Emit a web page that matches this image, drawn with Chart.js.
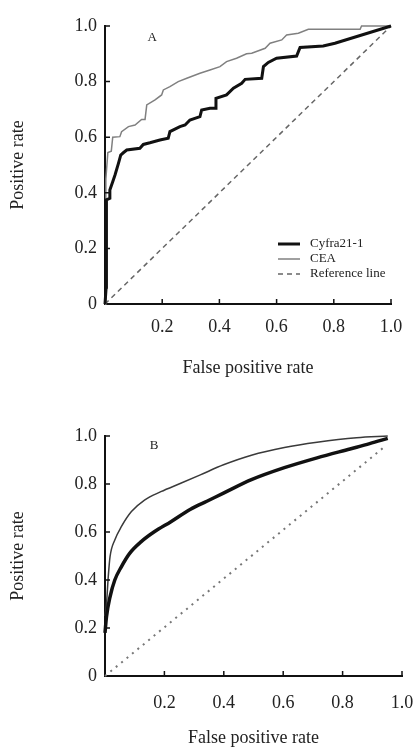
<!DOCTYPE html>
<html>
<head>
<meta charset="utf-8">
<script src="https://cdn.jsdelivr.net/npm/chart.js@4.4.1/dist/chart.umd.min.js"></script>
<style>
body { margin: 0; background: #fff; }
canvas { display: block; }
</style>
</head>
<body>
<canvas id="rocA" width="414" height="385"></canvas>
<canvas id="rocB" width="414" height="366"></canvas>
<script>
// Panel A - empirical ROC
var cyfraA_fpr = [0, 0.004, 0.005, 0.017, 0.017, 0.027, 0.035, 0.047, 0.055, 0.064, 0.076, 0.122, 0.134, 0.157, 0.192, 0.221, 0.227, 0.262, 0.28, 0.297, 0.332, 0.338, 0.367, 0.385, 0.388, 0.425, 0.449, 0.478, 0.49, 0.548, 0.554, 0.571, 0.6, 0.67, 0.682, 0.763, 0.804, 1.0];
var cyfraA_tpr = [0, 0.06, 0.375, 0.38, 0.41, 0.44, 0.464, 0.506, 0.536, 0.544, 0.554, 0.56, 0.574, 0.58, 0.59, 0.596, 0.62, 0.638, 0.644, 0.662, 0.674, 0.698, 0.704, 0.704, 0.74, 0.752, 0.776, 0.794, 0.808, 0.812, 0.854, 0.869, 0.884, 0.892, 0.923, 0.928, 0.938, 1.0];
var ceaA_fpr = [0, 0.003, 0.01, 0.022, 0.027, 0.052, 0.058, 0.082, 0.105, 0.128, 0.14, 0.146, 0.175, 0.198, 0.204, 0.227, 0.256, 0.286, 0.332, 0.367, 0.402, 0.425, 0.46, 0.495, 0.513, 0.56, 0.577, 0.618, 0.635, 0.676, 0.711, 0.892, 0.897, 1.0];
var ceaA_tpr = [0, 0.45, 0.545, 0.55, 0.6, 0.602, 0.62, 0.638, 0.644, 0.664, 0.664, 0.716, 0.734, 0.752, 0.77, 0.782, 0.8, 0.812, 0.83, 0.842, 0.854, 0.872, 0.884, 0.9, 0.902, 0.92, 0.938, 0.95, 0.968, 0.974, 0.988, 0.988, 1.0, 1.0];
var refA_fpr = [0, 1.0];
var refA_tpr = [0, 1.0];

// Panel B - smoothed ROC
var cyfraB_fpr = [0, 0.005, 0.017, 0.033, 0.055, 0.083, 0.122, 0.166, 0.222, 0.288, 0.343, 0.399, 0.493, 0.604, 0.714, 0.825, 0.891, 0.952];
var cyfraB_tpr = [0.18, 0.247, 0.33, 0.4, 0.455, 0.511, 0.56, 0.601, 0.643, 0.695, 0.728, 0.762, 0.818, 0.868, 0.909, 0.946, 0.968, 0.99];
var ceaB_fpr = [0, 0.005, 0.011, 0.017, 0.033, 0.055, 0.089, 0.133, 0.188, 0.255, 0.321, 0.399, 0.493, 0.604, 0.714, 0.847, 0.952];
var ceaB_tpr = [0.25, 0.3, 0.414, 0.497, 0.567, 0.622, 0.685, 0.733, 0.768, 0.803, 0.838, 0.88, 0.92, 0.952, 0.974, 0.993, 1.0];
var refB_fpr = [0, 0.941];
var refB_tpr = [0, 0.955];

var seriesNames = ['Cyfra21-1', 'CEA', 'Reference line'];
var xTicks = [0.2, 0.4, 0.6, 0.8, 1.0];
var yTicks = [0, 0.2, 0.4, 0.6, 0.8, 1.0];

var serif = "'Liberation Serif', 'Times New Roman', serif";

function toPoints(xs, ys) {
	var pts = [];
	for (var i = 0; i < xs.length; i++) {
		pts.push({x: xs[i], y: ys[i]});
	}
	return pts;
}

// small tick marks pointing into the plot
var innerTicks = {
	id: 'innerTicks',
	afterDraw: function(chart) {
		var ctx = chart.ctx, xs = chart.scales.x, ys = chart.scales.y;
		ctx.save();
		ctx.strokeStyle = '#111';
		ctx.lineWidth = 1.5;
		ctx.beginPath();
		xs.ticks.forEach(function(t) {
			var px = xs.getPixelForValue(t.value);
			ctx.moveTo(px, ys.bottom);
			ctx.lineTo(px, ys.bottom - 5);
		});
		ys.ticks.forEach(function(t) {
			if (t.value === 0) return;
			var py = ys.getPixelForValue(t.value);
			ctx.moveTo(xs.left, py);
			ctx.lineTo(xs.left + 5, py);
		});
		ctx.stroke();
		ctx.restore();
	}
};

// "A" / "B" panel letter
var panelLetter = {
	id: 'panelLetter',
	afterDraw: function(chart, args, opts) {
		if (!opts.text) return;
		var ctx = chart.ctx;
		ctx.save();
		ctx.font = '13px ' + serif;
		ctx.fillStyle = '#222';
		ctx.textAlign = 'center';
		ctx.textBaseline = 'middle';
		ctx.fillText(opts.text, chart.scales.x.getPixelForValue(opts.x), chart.scales.y.getPixelForValue(opts.y));
		ctx.restore();
	}
};

// legend in the lower right of the plot area
var insideLegend = {
	id: 'insideLegend',
	afterDraw: function(chart, args, opts) {
		if (!opts.show) return;
		var ctx = chart.ctx, area = chart.chartArea;
		var x0 = area.right - 113;
		ctx.save();
		ctx.font = '13px ' + serif;
		ctx.textBaseline = 'middle';
		chart.data.datasets.forEach(function(ds, i) {
			var y = area.bottom - 60 + i * 15;
			ctx.strokeStyle = ds.borderColor;
			ctx.lineWidth = ds.borderWidth;
			ctx.setLineDash(ds.borderDash || []);
			ctx.beginPath();
			ctx.moveTo(x0, y);
			ctx.lineTo(x0 + 22, y);
			ctx.stroke();
			ctx.setLineDash([]);
			ctx.fillStyle = '#222';
			ctx.fillText(ds.label, x0 + 32, y);
		});
		ctx.restore();
	}
};

function makeChart(id, sets, panel) {
	return new Chart(document.getElementById(id), {
		type: 'line',
		data: {datasets: sets},
		options: {
			responsive: false,
			animation: false,
			layout: {padding: {top: panel.top, right: panel.right, left: 0, bottom: 0}},
			elements: {point: {radius: 0}},
			plugins: {
				legend: {display: false},
				tooltip: {enabled: false},
				panelLetter: {text: panel.letter, x: 0.165, y: 0.96},
				insideLegend: {show: panel.legend}
			},
			scales: {
				x: {
					type: 'linear', min: 0, max: 1,
					grid: {display: false, drawTicks: false},
					border: {display: true, color: '#111', width: 2},
					afterBuildTicks: function(s) { s.ticks = xTicks.map(function(v) { return {value: v}; }); },
					afterFit: function(s) { s.height = panel.xHeight; s.paddingRight = 0; },
					ticks: {
						color: '#222', padding: panel.xPad, maxRotation: 0,
						font: {family: serif, size: 18},
						callback: function(v) { return v.toFixed(1); }
					},
					title: {display: true, text: 'False positive rate', color: '#222',
						font: {family: serif, size: 18}, padding: {top: 0, bottom: panel.xTitlePad}}
				},
				y: {
					type: 'linear', min: 0, max: 1,
					grid: {display: false, drawTicks: false},
					border: {display: true, color: '#111', width: 2},
					afterBuildTicks: function(s) { s.ticks = yTicks.map(function(v) { return {value: v}; }); },
					afterFit: function(s) { s.width = 105; },
					ticks: {
						color: '#222', padding: 8,
						font: {family: serif, size: 18},
						callback: function(v) { return v === 0 ? '0' : v.toFixed(1); }
					},
					title: {display: true, text: 'Positive rate', color: '#222',
						font: {family: serif, size: 18}, padding: {top: 7, bottom: 0}}
				}
			}
		},
		plugins: [innerTicks, panelLetter, insideLegend]
	});
}

var chartA = makeChart('rocA', [
	{label: seriesNames[0], data: toPoints(cyfraA_fpr, cyfraA_tpr), borderColor: '#111', borderWidth: 3, tension: 0, clip: 4},
	{label: seriesNames[1], data: toPoints(ceaA_fpr, ceaA_tpr), borderColor: '#808080', borderWidth: 1.5, tension: 0, clip: 4},
	{label: seriesNames[2], data: toPoints(refA_fpr, refA_tpr), borderColor: '#666', borderWidth: 1.5, borderDash: [5, 4], tension: 0, clip: 4}
], {letter: 'A', top: 26, right: 23, xHeight: 81, xPad: 12, xTitlePad: 6, legend: true});

var chartB = makeChart('rocB', [
	{label: seriesNames[0], data: toPoints(cyfraB_fpr, cyfraB_tpr), borderColor: '#111', borderWidth: 3.5, cubicInterpolationMode: 'monotone', clip: 4},
	{label: seriesNames[1], data: toPoints(ceaB_fpr, ceaB_tpr), borderColor: '#3a3a3a', borderWidth: 1.5, cubicInterpolationMode: 'monotone', clip: 4},
	{label: seriesNames[2], data: toPoints(refB_fpr, refB_tpr), borderColor: '#777', borderWidth: 2, borderDash: [2, 5], tension: 0, clip: 4}
], {letter: 'B', top: 51, right: 12, xHeight: 75, xPad: 16, xTitlePad: 2, legend: false});
</script>
</body>
</html>
